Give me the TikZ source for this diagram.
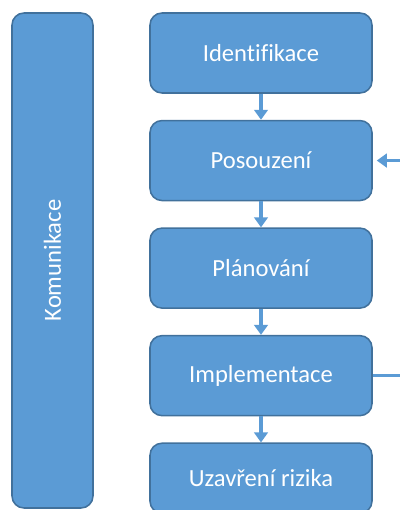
\documentclass[tikz,border=0pt]{standalone}
\usepackage{fontspec}
\setmainfont{Carlito}[Ligatures=CommonOff]
\usetikzlibrary{arrows.meta, positioning}

\definecolor{officeblue}{RGB}{91,155,213}
\definecolor{officeline}{RGB}{65,113,156}

\begin{document}
\begin{tikzpicture}[
    node distance=0.65cm,
    % Styles
    stage_box/.style={draw=officeline, fill=officeblue, line width=1.1pt, rounded corners=0.3cm, text=white, minimum width=5.55cm, minimum height=2cm, font=\fontsize{17.5}{20}\selectfont},
    comm_box/.style={draw=officeline, fill=officeblue, line width=1.1pt, rounded corners=0.3cm, text=white, minimum width=2.025cm, minimum height=12.375cm},
    arrow/.style={-{Triangle[length=2.5mm, width=3.4mm]}, line width=2.8pt, officeblue}
]

    % Frame of the picture (the feedback line runs off the right edge)
    \clip (0,0) rectangle (10,-12.75);

    % 1. COMMUNICATION BAR
    \node[comm_box] (comm) at (1.3125,-6.5125) {};
    \node[rotate=90, text=white, font=\fontsize{17.5}{20}\selectfont] at (comm.center) {Komunikace};

    % 2. PROCESS STEPS
    \node[stage_box] (ident) at (6.525,-1.325) {Identifikace};
    \node[stage_box, below=of ident] (assess) {Posouzení};
    \node[stage_box, below=of assess] (plan) {Plánování};
    \node[stage_box, below=of plan] (impl) {Implementace};
    \node[stage_box, below=of impl, minimum height=1.75cm] (close) {Uzavření rizika};

    % 3. ARROWS
    \draw[arrow] (ident.south) -- (assess.north);
    \draw[arrow] (assess.south) -- (plan.north);
    \draw[arrow] (plan.south) -- (impl.north);
    \draw[arrow] (impl.south) -- (close.north);

    % Feedback from Implementace back to Posouzení
    \draw[arrow, line width=2.2pt, shorten >=0.1cm] (impl.east) -- ++(0.8,0) |- (assess.east);

\end{tikzpicture}
\end{document}
